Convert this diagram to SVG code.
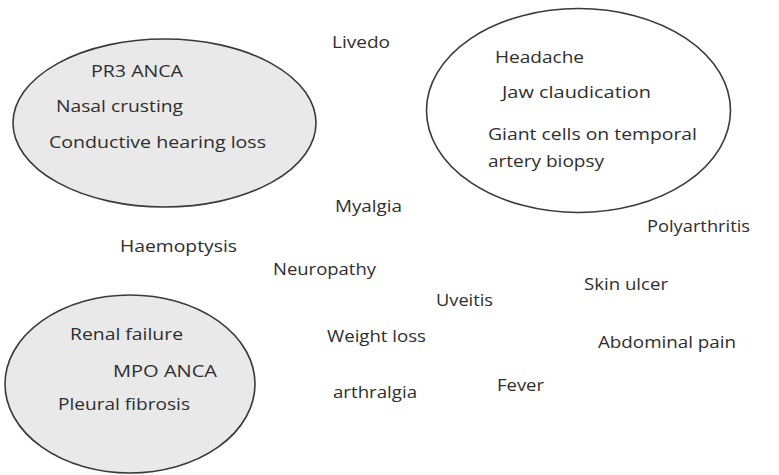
<svg xmlns="http://www.w3.org/2000/svg" width="779" height="475" viewBox="0 0 779 475">
<style>
  text { font-family: "Open Sans", "Liberation Sans", sans-serif; font-size: 16px; fill: #2e2e2e; }
  .ell { stroke: #3a3a3a; stroke-width: 1.6; }
  .gray { fill: #e9e9e9; }
  .white { fill: #ffffff; }
</style>
<rect x="0" y="0" width="779" height="475" fill="#ffffff"/>

<g id="gpa">
  <ellipse class="ell gray" cx="164.5" cy="123" rx="151.5" ry="84"/>
  <text x="91" y="77" textLength="92" lengthAdjust="spacingAndGlyphs">PR3 ANCA</text>
  <text x="56" y="112" textLength="127" lengthAdjust="spacingAndGlyphs">Nasal crusting</text>
  <text x="49" y="148" textLength="217" lengthAdjust="spacingAndGlyphs">Conductive hearing loss</text>
</g>

<g id="gca">
  <ellipse class="ell white" cx="578.5" cy="110.5" rx="152" ry="102"/>
  <text x="495" y="63" textLength="89" lengthAdjust="spacingAndGlyphs">Headache</text>
  <text x="502" y="98" textLength="149" lengthAdjust="spacingAndGlyphs">Jaw claudication</text>
  <text x="488" y="140" textLength="209" lengthAdjust="spacingAndGlyphs">Giant cells on temporal</text>
  <text x="488" y="167" textLength="116" lengthAdjust="spacingAndGlyphs">artery biopsy</text>
</g>

<g id="mpa">
  <ellipse class="ell gray" cx="130" cy="384" rx="125" ry="89"/>
  <text x="70" y="340" textLength="113" lengthAdjust="spacingAndGlyphs">Renal failure</text>
  <text x="113" y="377" textLength="104" lengthAdjust="spacingAndGlyphs">MPO ANCA</text>
  <text x="58" y="410" textLength="132" lengthAdjust="spacingAndGlyphs">Pleural fibrosis</text>
</g>

<g id="livedo"><text x="332" y="48" textLength="58" lengthAdjust="spacingAndGlyphs">Livedo</text></g>
<g id="haemoptysis"><text x="120" y="252" textLength="117" lengthAdjust="spacingAndGlyphs">Haemoptysis</text></g>
<g id="myalgia"><text x="335" y="212" textLength="67" lengthAdjust="spacingAndGlyphs">Myalgia</text></g>
<g id="polyarthritis"><text x="647" y="232" textLength="103" lengthAdjust="spacingAndGlyphs">Polyarthritis</text></g>
<g id="neuropathy"><text x="273" y="275" textLength="103" lengthAdjust="spacingAndGlyphs">Neuropathy</text></g>
<g id="skin-ulcer"><text x="584" y="290" textLength="84" lengthAdjust="spacingAndGlyphs">Skin ulcer</text></g>
<g id="uveitis"><text x="436" y="306" textLength="57" lengthAdjust="spacingAndGlyphs">Uveitis</text></g>
<g id="weight-loss"><text x="327" y="342" textLength="99" lengthAdjust="spacingAndGlyphs">Weight loss</text></g>
<g id="abdominal-pain"><text x="598" y="348" textLength="138" lengthAdjust="spacingAndGlyphs">Abdominal pain</text></g>
<g id="fever"><text x="497" y="391" textLength="47" lengthAdjust="spacingAndGlyphs">Fever</text></g>
<g id="arthralgia"><text x="333" y="398" textLength="84" lengthAdjust="spacingAndGlyphs">arthralgia</text></g>
</svg>
